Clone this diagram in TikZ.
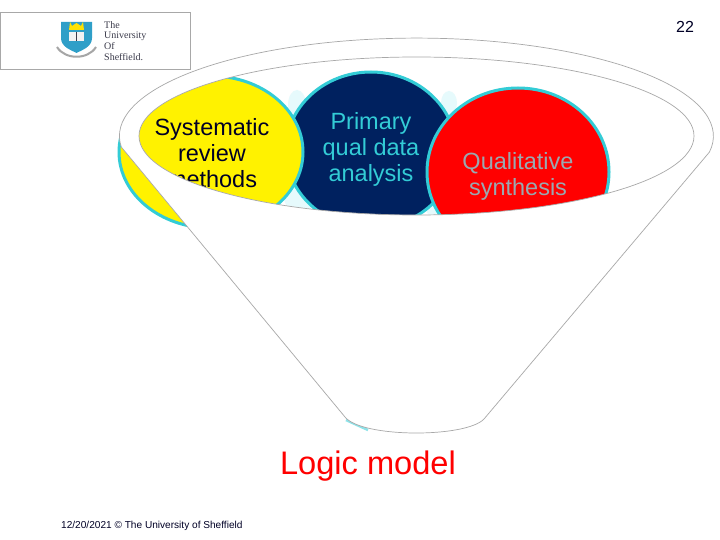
\documentclass[tikz,border=0pt]{standalone}
\usepackage{fontspec}
\setmainfont{Liberation Sans}
\newfontfamily\logofont{Liberation Serif}
\definecolor{ringcyan}{HTML}{33CCD6}
\definecolor{halo}{HTML}{E6FAFC}
\definecolor{navyfill}{HTML}{00215F}
\definecolor{edgegray}{HTML}{A8A8A8}
\definecolor{qualtext}{HTML}{9AA8B0}
\definecolor{shieldblue}{HTML}{2F9FC8}
\definecolor{logoink}{HTML}{3A3A4A}
\tikzset{
  bubble/.style={draw=ringcyan,line width=3pt},
  bubbletext/.style={align=center,font=\fontsize{23.5}{26}\selectfont,inner sep=0pt},
  funnel/.style={fill=white,draw=edgegray,line width=0.7pt,even odd rule},
  logoline/.style={anchor=west,inner sep=0pt,text=logoink,font=\logofont\fontsize{10}{10}\selectfont},
}
\begin{document}
\begin{tikzpicture}[x=1pt,y=-1pt]
\useasboundingbox (0,0) rectangle (720,540);
\fill[white] (0,0) rectangle (720,540);
% logo
\draw[edgegray,line width=0.8pt,fill=white] (0,12) rectangle (190,69);
\fill[shieldblue] (61,22) -- (92,22) -- (92,38) .. controls (92,47) and (82,50) .. (76.5,53) .. controls (71,50) and (61,47) .. (61,38) -- cycle;
\fill[yellow!85!orange] (70,22) -- (72,26) -- (76.5,23) -- (81,26) -- (83,22) -- (84,30) -- (69,30) -- cycle;
\fill[white!90!gray] (69,32) rectangle (84,41);
\draw[logoink,line width=0.4pt] (76.5,32) -- (76.5,41);
\draw[gray!70,line width=2pt] (57,47) .. controls (65,60) and (88,60) .. (96,47);
\node[logoline] (l1) at (104,25.5) {The};
\node[logoline] (l2) at (104,36) {University};
\node[logoline] (l3) at (104,46.5) {Of};
\node[logoline] (l4) at (104,57) {Sheffield.};
% halos between bubbles
\fill[halo] (297,105) ellipse [x radius=9pt,y radius=15pt];
\fill[halo] (300,197) ellipse [x radius=16pt,y radius=16pt];
\fill[halo] (449,103) ellipse [x radius=8pt,y radius=12pt];
\fill[halo] (432,205) ellipse [x radius=7pt,y radius=11pt];
\draw[halo!50!ringcyan,line width=2.5pt] (346,420) -- (368,430);
% bubbles
\draw[bubble,fill=navyfill] (371,150) ellipse [x radius=85pt,y radius=78pt];
\node[bubbletext,text=ringcyan] (pq) at (371,149) {Primary\\qual data\\analysis};
\draw[bubble,fill=yellow] (211,152) ellipse [x radius=92pt,y radius=76pt];
\node[bubbletext,text=black!85!blue] (sr) at (212,153) {Systematic\\review\\methods};
\draw[bubble,fill=red] (518,172) ellipse [x radius=91pt,y radius=84pt];
\node[bubbletext,text=qualtext] (qs) at (518,176) {Qualitative\\synthesis};
% funnel
\path[funnel] (121.3,147) arc[start angle=186.4,end angle=-9.4,x radius=297pt,y radius=98pt]
  -- (484,419) .. controls (466,438) and (362,438) .. (345,417) -- cycle
  (416.5,136) ellipse [x radius=277.5pt,y radius=79pt];
% labels
\node[text=red,inner sep=0pt,font=\fontsize{32.6}{34}\selectfont] (lm) at (368,466) {Logic model};
\node[anchor=west,inner sep=0pt,text=black!85!blue,font=\fontsize{10.1}{10}\selectfont] (ft) at (61,526) {12/20/2021 © The University of Sheffield};
\node[inner sep=0pt,text=black!85!blue,font=\fontsize{16}{18}\selectfont] (pn) at (685,27) {22};
\end{tikzpicture}
\end{document}
